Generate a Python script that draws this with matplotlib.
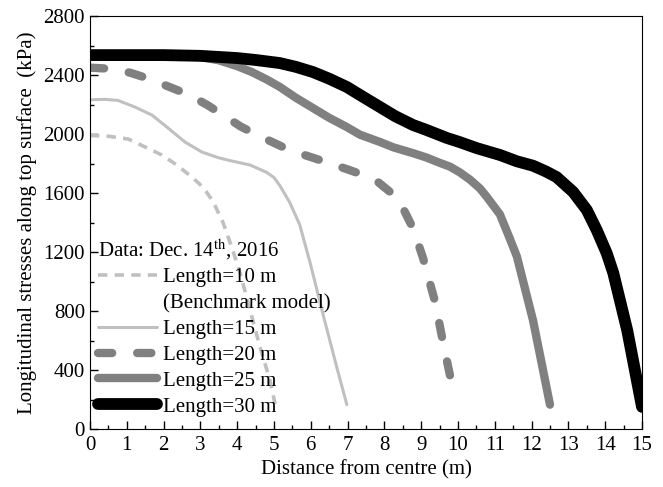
import matplotlib
matplotlib.use('Agg')
import matplotlib.pyplot as plt
from matplotlib.ticker import MultipleLocator

plt.rcParams['font.family'] = 'Liberation Serif'
plt.rcParams['mathtext.fontset'] = 'stix'
plt.rcParams['font.size'] = 15

# Length = 10 m (benchmark)
x10 = [0, 0.5, 1.04, 1.5, 1.95, 2.36, 2.77, 3.07, 3.34, 3.62, 3.85, 4.08, 4.35, 4.62, 4.89, 5.03]
y10 = [1990, 1985, 1966, 1912, 1858, 1790, 1708, 1640, 1545, 1397, 1234, 1058, 807, 556, 332, 170]

# Length = 15 m
x15 = [0, 0.4, 0.76, 1.22, 1.68, 2.12, 2.58, 3.04, 3.48, 3.8, 4.35, 4.8, 5.0, 5.16, 5.43,
       5.7, 6.0, 6.34, 6.7, 6.98]
y15 = [2232, 2235, 2228, 2183, 2129, 2041, 1946, 1878, 1840, 1820, 1790, 1740, 1705, 1650, 1535,
       1385, 1110, 770, 425, 165]

# Length = 20 m
x20 = [0, 0.6, 1.1, 1.6, 2.2, 2.7, 3.2, 3.7, 4.1, 4.55, 5.0, 5.3, 5.8, 6.5, 7.0, 7.4,
       7.8, 8.24, 8.5, 8.78, 9.05, 9.38, 9.6, 9.87]
y20 = [2450, 2442, 2415, 2375, 2315, 2265, 2195, 2115, 2050, 1993, 1940, 1905, 1860, 1803, 1760, 1725,
       1680, 1590, 1500, 1360, 1160, 860, 580, 260]

# Length = 25 m
x25 = [0, 2, 3, 3.5, 4, 4.4, 4.8, 5.16, 5.6, 6.06, 6.5, 6.98, 7.34, 7.88, 8.24, 8.78,
       9.15, 9.5, 9.78, 10.05, 10.33, 10.6, 10.78, 11.14, 11.41, 11.6, 12.04, 12.5]
y25 = [2535, 2533, 2522, 2500, 2460, 2420, 2370, 2319, 2245, 2176, 2110, 2047, 1995, 1946, 1910, 1870,
       1840, 1805, 1779, 1740, 1690, 1630, 1575, 1455, 1290, 1170, 736, 165]

# Length = 30 m
x30 = [0, 2, 3, 4, 4.5, 5.16, 5.6, 6.06, 6.5, 6.98, 7.4, 7.88, 8.3, 8.78, 9.15, 9.7,
       10.05, 10.5, 10.96, 11.14, 11.6, 12.04, 12.4, 12.68, 13.13, 13.5, 13.77, 14.04, 14.22,
       14.6, 15]
y30 = [2535, 2535, 2530, 2515, 2502, 2481, 2455, 2420, 2375, 2319, 2255, 2183, 2120, 2061, 2027, 1973,
       1945, 1905, 1871, 1858, 1815, 1785, 1745, 1708, 1607, 1485, 1349, 1193, 1058,
       668, 150]

fig = plt.figure(figsize=(6.63, 4.87), dpi=100)
ax = fig.add_axes([0.1357, 0.1191, 0.8326, 0.848])

light = '#c0c0c0'
mid = '#808080'

l10, = ax.plot(x10, y10, color=light, lw=2.6, dashes=(2.6, 2.0))
blank, = ax.plot([], [], color='none')
l15, = ax.plot(x15, y15, color=light, lw=2.2, solid_capstyle='round')
l20, = ax.plot(x20, y20, color=mid, lw=6.0, dashes=(1.7, 3.0), dash_capstyle='round')
l25, = ax.plot(x25, y25, color=mid, lw=6.0, solid_capstyle='round')
l30, = ax.plot(x30, y30, color='black', lw=8.5, solid_capstyle='round')

ax.set_xlim(0, 15)
ax.set_ylim(0, 2800)
ax.xaxis.set_major_locator(MultipleLocator(1))
ax.xaxis.set_minor_locator(MultipleLocator(0.5))
ax.yaxis.set_major_locator(MultipleLocator(400))
ax.yaxis.set_minor_locator(MultipleLocator(200))
ax.tick_params(which='both', direction='in', top=False, right=False)
ax.tick_params(which='major', length=6, width=1)
ax.tick_params(which='minor', length=3, width=1)
ax.tick_params(axis='x', pad=5)

ax.set_xlabel('Distance from centre (m)', fontsize=15, labelpad=4)
ax.set_ylabel('Longitudinal stresses along top surface  (kPa)', fontsize=15, labelpad=5)

leg = ax.legend([l10, blank, l15, l20, l25, l30],
                ['Length=10 m', '(Benchmark model)', 'Length=15 m', 'Length=20 m',
                 'Length=25 m', 'Length=30 m'],
                title='Data: Dec. 14$^{\\mathrm{th}}$, 2016', title_fontsize=15,
                loc='lower left', bbox_to_anchor=(0.0, 0.01), frameon=False,
                handlelength=2.8, handletextpad=0.3, labelspacing=0.3,
                borderaxespad=0.2, borderpad=0.2, alignment='left', fontsize=15)

fig.savefig('out.png', dpi=100)
